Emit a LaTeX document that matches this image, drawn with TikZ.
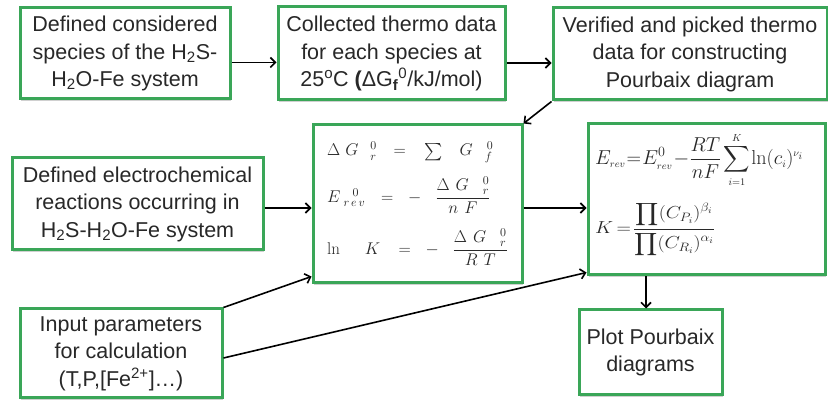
\RequirePackage{fix-cm}
\documentclass[tikz,border=0pt]{standalone}
\usepackage{amsmath}
\usepackage{graphicx}
\usepackage[no-math]{fontspec}
\setmainfont{Liberation Sans}
\usetikzlibrary{arrows.meta,shadows}
\definecolor{boxgreen}{RGB}{58,166,88}
\definecolor{txt}{RGB}{40,40,40}
\begin{document}
\begin{tikzpicture}[x=1pt,y=-1pt,
  box/.style={draw=boxgreen,line width=3pt,fill=white,inner sep=0pt,align=center,text=txt,
    font=\fontsize{21.5}{27.5}\selectfont,
    drop shadow={shadow xshift=1.2pt,shadow yshift=-1.8pt,opacity=0.3,fill=black!60}},
  arr/.style={-{Straight Barb[length=5pt,width=10pt,line width=1.6pt]},line width=1.6pt,black},
  eqE/.style={anchor=base west,inner sep=0pt,text=txt,font=\fontsize{17}{20}\selectfont},
  eqF/.style={anchor=west,inner sep=0pt,text=txt,font=\fontsize{19}{22}\selectfont}]
\fill[white] (0,0) rectangle (828,403);
\useasboundingbox (0,0) rectangle (828,403);

\node[box,minimum width=210pt,minimum height=91pt] (A) at (125,53.5)
  {Defined considered\\species of the H\textsubscript{2}S-\\H\textsubscript{2}O-Fe system};
\node[box,minimum width=227pt,minimum height=93pt] (B) at (391.5,53.5)
  {Collected thermo data\\for each species at\\25\textsuperscript{o}C \textbf{(}ΔG\textsubscript{\textbf{f}}\textsuperscript{0}/kJ/mol)};
\node[box,minimum width=274pt,minimum height=92pt] (C) at (690,54)
  {Verified and picked thermo\\data for constructing\\Pourbaix diagram};
\node[box,minimum width=251pt,minimum height=92pt] (D) at (137.5,204)
  {Defined electrochemical\\reactions occurring in\\H\textsubscript{2}S-H\textsubscript{2}O-Fe system};
\node[box,minimum width=209pt,minimum height=158pt] (E) at (417.5,204) {};
\node[box,minimum width=237pt,minimum height=151pt] (F) at (706.5,199.5) {};
\node[box,minimum width=202pt,minimum height=89pt] (G) at (121,353.5)
  {Input parameters\\for calculation\\(T,P,[Fe\textsuperscript{2+}]\ldots)};
\node[box,minimum width=143pt,minimum height=85pt] (H) at (650.5,352.5)
  {Plot Pourbaix\\diagrams};

% formulas in E
\node[eqE] (e1) at (327,156)
  {$\Delta\hspace{5pt}G_{\hspace{12pt}r}^{\hspace{12pt}0}\hspace{12pt}=\hspace{14pt}\textstyle\sum\hspace{14pt}G_{\hspace{12pt}f}^{\hspace{14pt}0}$};
\node[eqE] (e2) at (327,202.25)
  {$E_{\hspace{4pt}r\,e\,v}^{\hspace{12pt}0}\hspace{11pt}=\hspace{10pt}-\hspace{14pt}\dfrac{\Delta\hspace{6pt}G_{\hspace{14pt}r}^{\hspace{14pt}0}}{n\hspace{6pt}F}$};
\node[eqE] (e3) at (327,254.25)
  {$\ln\hspace{22pt}K\hspace{13.5pt}=\hspace{10pt}-\hspace{14pt}\dfrac{\Delta\hspace{6pt}G_{\hspace{14pt}r}^{\hspace{14pt}0}}{R\hspace{6pt}T}$};

% formulas in F
\node[eqF] (f1) at (595,160)
  {\resizebox{208pt}{!}{$\displaystyle E_{\scriptscriptstyle rev}\mskip1mu{=}\mskip1mu E^{0}_{\scriptscriptstyle rev}\mskip1mu{-}\mskip0mu\frac{RT}{nF}\mskip-1mu\sum_{\scriptscriptstyle i=1}^{\scriptscriptstyle K}\mskip-2mu\ln(c_{\scriptscriptstyle i})^{\scriptscriptstyle\nu_i}$}};
\node[eqF] (f2) at (595,229.5)
  {\resizebox*{120pt}{55pt}{$\displaystyle K\mskip3mu{=}\mskip2mu\frac{\displaystyle\prod(C_{P_i})^{\beta_i}}{\displaystyle\prod(C_{R_i})^{\alpha_i}}$}};

% connectors
\draw[arr] ([yshift=-9pt]A.east) -- ([yshift=-9pt]B.west);
\draw[arr] ([yshift=-9.5pt]B.east) -- ([yshift=-9pt]C.west);
\draw[arr] (C.south west) -- (E.north east);
\draw[arr] ([yshift=-4pt]D.east) -- ([yshift=-4pt]E.west);
\draw[arr] ([yshift=-4pt]E.east) -- ([yshift=-8.5pt]F.west);
\draw[arr] (G.north east) -- ([yshift=8pt]E.south west);
\draw[arr] ([yshift=-4.5pt]G.east) -- ([yshift=4pt]F.south west);
\draw[arr] ([xshift=-4.5pt]H.north |- F.south) -- ([xshift=-4.5pt]H.north);
\end{tikzpicture}
\end{document}
